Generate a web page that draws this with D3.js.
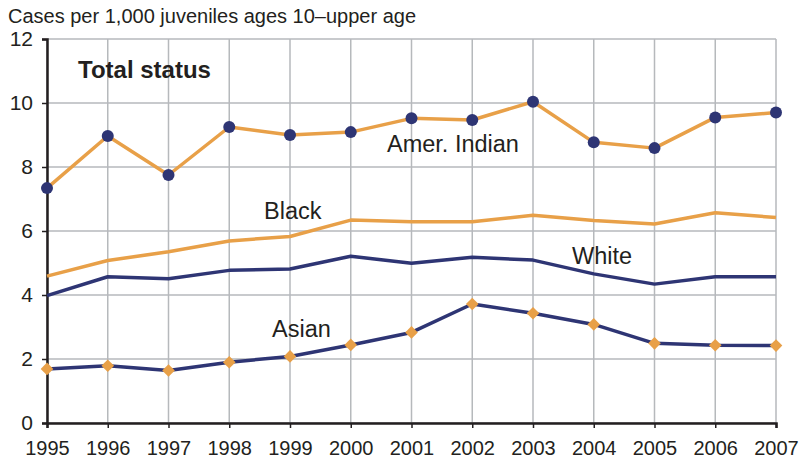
<!DOCTYPE html>
<html><head><meta charset="utf-8">
<script src="https://cdn.jsdelivr.net/npm/d3@7"></script>
<style>body{margin:0;background:#fff}svg{display:block}text{font-family:"Liberation Sans",Arial,sans-serif;fill:#231f20}</style>
</head><body><svg id="c" width="801" height="459"></svg>
<script>
const years = [1995,1996,1997,1998,1999,2000,2001,2002,2003,2004,2005,2006,2007];
const amerIndian = [7.34,8.97,7.75,9.25,9.0,9.09,9.52,9.47,10.04,8.77,8.59,9.55,9.70];
const black = [4.59,5.08,5.35,5.69,5.83,6.34,6.29,6.29,6.49,6.33,6.22,6.57,6.42];
const white = [3.98,4.57,4.51,4.77,4.81,5.21,4.99,5.18,5.09,4.66,4.34,4.57,4.57];
const asian = [1.69,1.79,1.64,1.90,2.08,2.44,2.83,3.72,3.43,3.08,2.49,2.43,2.42];
const yTicks = [0,2,4,6,8,10,12];
const yTitle = "Cases per 1,000 juveniles ages 10–upper age";
const panelTitle = "Total status";

const orange = "#E8A048", navy = "#2E3574", grid = "#B6B9BC";
const svg = d3.select("#c");
const x = d3.scaleLinear().domain([1995,2007]).range([47,776]);
const y = d3.scaleLinear().domain([0,12]).range([423,39]);

// grid
svg.append("g").selectAll("line").data(years).join("line")
  .attr("x1",d=>x(d)).attr("x2",d=>x(d)).attr("y1",y(12)).attr("y2",y(0))
  .attr("stroke",grid).attr("stroke-width",1.5);
svg.append("g").selectAll("line").data(yTicks).join("line")
  .attr("x1",x(1995)).attr("x2",x(2007)).attr("y1",d=>y(d)).attr("y2",d=>y(d))
  .attr("stroke",grid).attr("stroke-width",1.5);

// axes
const ya = svg.append("g").attr("transform",`translate(${x(1995)},0)`)
  .call(d3.axisLeft(y).tickValues(yTicks).tickSize(5).tickPadding(9).tickFormat(d3.format("d")));
ya.select(".domain").attr("stroke","#231f20").attr("stroke-width",2.5);
ya.selectAll(".tick line").attr("stroke","#231f20").attr("stroke-width",1.5);
ya.selectAll(".tick text").style("font-size","21px").attr("fill","#231f20").attr("dy","0.33em");

const xa = svg.append("g").attr("transform",`translate(0,${y(0)})`)
  .call(d3.axisBottom(x).tickValues(years).tickSize(5).tickPadding(0).tickFormat(d3.format("d")));
xa.select(".domain").attr("stroke","#231f20").attr("stroke-width",2.5);
xa.selectAll(".tick line").attr("stroke","#231f20").attr("stroke-width",1.5);
xa.selectAll(".tick text").style("font-size","20px").attr("fill","#231f20").attr("y",32).attr("dy",0);

const line = d3.line().x((d,i)=>x(years[i])).y(d=>y(d));
function drawLine(vals,color){
  svg.append("path").datum(vals).attr("d",line).attr("fill","none")
    .attr("stroke",color).attr("stroke-width",3.5).attr("stroke-linejoin","round");
}
drawLine(black,orange);
drawLine(white,navy);
drawLine(asian,navy);
drawLine(amerIndian,orange);

svg.append("g").selectAll("circle").data(amerIndian).join("circle")
  .attr("cx",(d,i)=>x(years[i])).attr("cy",d=>y(d)).attr("r",6).attr("fill",navy);
svg.append("g").selectAll("path").data(asian).join("path")
  .attr("d",d3.symbol(d3.symbolSquare,80))
  .attr("transform",(d,i)=>`translate(${x(years[i])},${y(d)}) rotate(45)`).attr("fill",orange);

svg.append("text").attr("x",8).attr("y",23).style("font-size","20px").text(yTitle);
svg.append("text").attr("x",78).attr("y",78).style("font-size","24px").style("font-weight","bold").text(panelTitle);

const labels = [["Amer. Indian",387,152],["Black",264,219],["White",572,264],["Asian",272,337]];
svg.append("g").selectAll("text").data(labels).join("text")
  .attr("x",d=>d[1]).attr("y",d=>d[2]).style("font-size","23.5px").text(d=>d[0]);
</script></body></html>
